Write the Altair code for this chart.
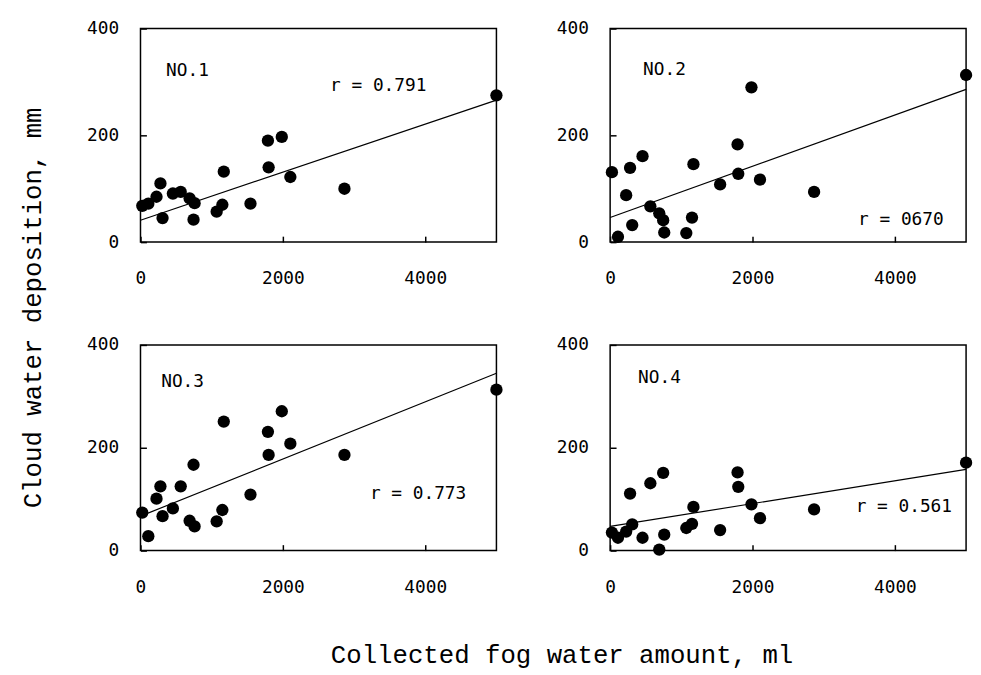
import altair as alt
import pandas as pd

# ---- data ----
fog_ml = [25, 110, 225, 280, 310, 455, 565, 690, 745, 760, 1070, 1150, 1170,
          1545, 1790, 1800, 1985, 2105, 2865, 5000]
dep_no1 = [68, 72, 85, 110, 45, 91, 94, 82, 42, 73, 57, 70, 132, 72, 190, 140,
           197, 122, 100, 275]
dep_no2 = [131, 10, 88, 139, 32, 161, 67, 54, 41, 18, 17, 46, 146, 108, 183,
           128, 290, 117, 94, 313]
dep_no3 = [74, 28, 101, 125, 67, 82, 125, 58, 167, 47, 57, 79, 251, 109, 231,
           186, 271, 208, 186, 313]
dep_no4 = [35, 25, 37, 111, 51, 25, 131, 2, 151, 31, 44, 52, 85, 40, 152, 124,
           90, 63, 80, 171]

fit_x = [0, 5000]
fit_no1 = [41, 266]
fit_no2 = [46, 286]
fit_no3 = [67, 345]
fit_no4 = [47, 158]

site_names = ["NO.1", "NO.2", "NO.3", "NO.4"]
r_labels = ["r = 0.791", "r = 0670", "r = 0.773", "r = 0.561"]

x_ticks = [0, 2000, 4000]
y_ticks = [0, 200, 400]

# annotation anchor points (data units)
name_pos = [(359, 321), (462, 322), (291, 327), (393, 335)]
r_pos = [(2663, 293), (3483, 41), (3223, 110), (3449, 84)]

deps = [dep_no1, dep_no2, dep_no3, dep_no4]
fits = [fit_no1, fit_no2, fit_no3, fit_no4]

LABEL_FONT = "DejaVu Sans Mono"
TITLE_FONT = "Liberation Mono"
W = 360


def panel(i, h):
    xs = alt.Scale(domain=[0, 5000], nice=False)
    ys = alt.Scale(domain=[0, 400], nice=False)
    xaxis = alt.Axis(values=x_ticks, title=None, grid=False, domain=False,
                     offset=-6, tickSize=6, tickWidth=1.5, tickColor="black",
                     labelPadding=28, labelFont=LABEL_FONT, labelFontSize=18,
                     labelColor="black", format="d", labelFlush=False)
    yaxis = alt.Axis(values=y_ticks, title=None, grid=False, domain=False,
                     offset=-6, tickSize=6, tickWidth=1.5, tickColor="black",
                     labelPadding=22, labelFont=LABEL_FONT, labelFontSize=18,
                     labelColor="black", format="d")
    X = alt.X("x:Q", scale=xs, axis=xaxis)
    Y = alt.Y("y:Q", scale=ys, axis=yaxis)

    pts_df = pd.DataFrame({"x": fog_ml, "y": deps[i]})
    fit_df = pd.DataFrame({"x": fit_x, "y": fits[i]})
    ann_df = pd.DataFrame({
        "x": [name_pos[i][0], r_pos[i][0]],
        "y": [name_pos[i][1], r_pos[i][1]],
        "t": [site_names[i], r_labels[i]],
    })

    fit = alt.Chart(fit_df).mark_line(color="black", strokeWidth=1.2).encode(x=X, y=Y)
    pts = alt.Chart(pts_df).mark_circle(size=155, color="black", opacity=1).encode(x=X, y=Y)
    ann = alt.Chart(ann_df).mark_text(align="left", baseline="middle", font=LABEL_FONT,
                                      fontSize=18, color="black").encode(x=X, y=Y, text="t:N")
    return alt.layer(fit, pts, ann).properties(width=W, height=h)


row1 = alt.hconcat(panel(0, 216), panel(1, 216), spacing=52)
row2 = alt.hconcat(panel(2, 208), panel(3, 208), spacing=52)

grid = alt.vconcat(row1, row2, spacing=47).properties(
    title=alt.TitleParams("Cloud water deposition, mm", orient="left", anchor="middle",
                          font=TITLE_FONT, fontSize=26, fontWeight="normal",
                          color="black", offset=40)
)

chart = alt.vconcat(grid).properties(
    title=alt.TitleParams("Collected fog water amount, ml", orient="bottom", anchor="middle",
                          font=TITLE_FONT, fontSize=26, fontWeight="normal",
                          color="black", offset=46, dx=66),
    padding={"left": 12, "top": 7, "right": 0, "bottom": 0},
    background="white",
).configure_view(stroke="black", strokeWidth=1.5)

chart.save("out.html", embed_options={"renderer": "svg", "actions": False})
